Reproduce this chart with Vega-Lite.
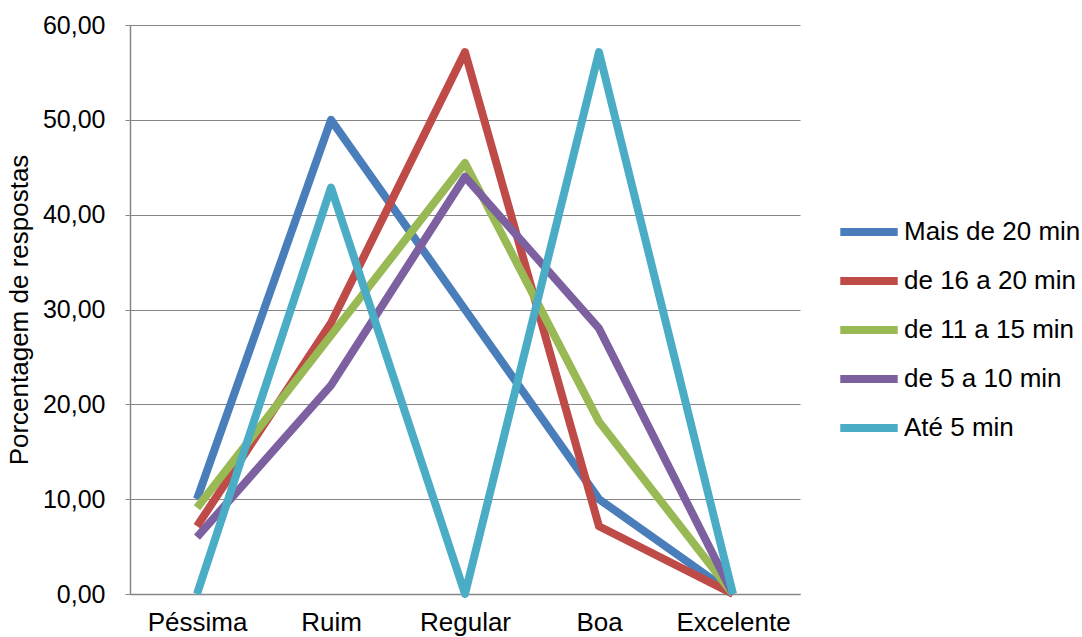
{
  "$schema": "https://vega.github.io/schema/vega-lite/v6.json",
  "width": 670,
  "height": 569,
  "autosize": {"type": "none"},
  "padding": {"left": 130, "top": 25, "right": 282, "bottom": 43},
  "background": "white",
  "data": {
    "values": [
      {"serie": "Mais de 20 min", "avaliacao": "Péssima", "pct": 10},
      {"serie": "Mais de 20 min", "avaliacao": "Ruim", "pct": 50},
      {"serie": "Mais de 20 min", "avaliacao": "Regular", "pct": 30},
      {"serie": "Mais de 20 min", "avaliacao": "Boa", "pct": 10},
      {"serie": "Mais de 20 min", "avaliacao": "Excelente", "pct": 0},
      {"serie": "de 16 a 20 min", "avaliacao": "Péssima", "pct": 7.14},
      {"serie": "de 16 a 20 min", "avaliacao": "Ruim", "pct": 28.57},
      {"serie": "de 16 a 20 min", "avaliacao": "Regular", "pct": 57.14},
      {"serie": "de 16 a 20 min", "avaliacao": "Boa", "pct": 7.14},
      {"serie": "de 16 a 20 min", "avaliacao": "Excelente", "pct": 0},
      {"serie": "de 11 a 15 min", "avaliacao": "Péssima", "pct": 9.09},
      {"serie": "de 11 a 15 min", "avaliacao": "Ruim", "pct": 27.27},
      {"serie": "de 11 a 15 min", "avaliacao": "Regular", "pct": 45.45},
      {"serie": "de 11 a 15 min", "avaliacao": "Boa", "pct": 18.18},
      {"serie": "de 11 a 15 min", "avaliacao": "Excelente", "pct": 0},
      {"serie": "de 5 a 10 min", "avaliacao": "Péssima", "pct": 6},
      {"serie": "de 5 a 10 min", "avaliacao": "Ruim", "pct": 22},
      {"serie": "de 5 a 10 min", "avaliacao": "Regular", "pct": 44},
      {"serie": "de 5 a 10 min", "avaliacao": "Boa", "pct": 28},
      {"serie": "de 5 a 10 min", "avaliacao": "Excelente", "pct": 0},
      {"serie": "Até 5 min", "avaliacao": "Péssima", "pct": 0},
      {"serie": "Até 5 min", "avaliacao": "Ruim", "pct": 42.86},
      {"serie": "Até 5 min", "avaliacao": "Regular", "pct": 0},
      {"serie": "Até 5 min", "avaliacao": "Boa", "pct": 57.14},
      {"serie": "Até 5 min", "avaliacao": "Excelente", "pct": 0}
    ]
  },
  "mark": {"type": "line", "strokeWidth": 8, "strokeJoin": "round", "strokeCap": "butt"},
  "encoding": {
    "x": {
      "field": "avaliacao",
      "type": "ordinal",
      "sort": ["Péssima", "Ruim", "Regular", "Boa", "Excelente"],
      "scale": {"type": "point", "padding": 0.5},
      "axis": {
        "title": null,
        "labelAngle": 0,
        "labelFont": "Liberation Sans",
        "labelFontSize": 26,
        "labelColor": "#000000",
        "labelPadding": 15,
        "ticks": false,
        "grid": false,
        "domainColor": "#868686",
        "domainWidth": 1.5
      }
    },
    "y": {
      "field": "pct",
      "type": "quantitative",
      "scale": {"domain": [0, 60], "nice": false},
      "axis": {
        "title": "Porcentagem de respostas",
        "titleFont": "Liberation Sans",
        "titleFontSize": 26,
        "titleFontWeight": "normal",
        "titleColor": "#000000",
        "titlePadding": 10,
        "values": [0, 10, 20, 30, 40, 50, 60],
        "labelExpr": "replace(format(datum.value, '.2f'), '.', ',')",
        "labelFont": "Liberation Sans",
        "labelFontSize": 25,
        "labelColor": "#000000",
        "labelPadding": 20,
        "tickSize": 5,
        "tickColor": "#868686",
        "domainColor": "#868686",
        "domainWidth": 1.5,
        "gridColor": "#868686",
        "gridWidth": 1.2
      }
    },
    "color": {
      "field": "serie",
      "type": "nominal",
      "scale": {
        "domain": ["Mais de 20 min", "de 16 a 20 min", "de 11 a 15 min", "de 5 a 10 min", "Até 5 min"],
        "range": ["#4A7EBB", "#BE4B48", "#98B954", "#7D60A0", "#4BACC6"]
      },
      "legend": {
        "title": null,
        "orient": "none",
        "legendX": 706,
        "legendY": 174,
        "symbolType": "stroke",
        "symbolSize": 3300,
        "symbolStrokeWidth": 8,
        "labelFont": "Liberation Sans",
        "labelFontSize": 26,
        "labelColor": "#000000",
        "labelOffset": 2,
        "rowPadding": -19,
        "labelLimit": 300
      }
    }
  },
  "config": {"view": {"stroke": null}}
}
